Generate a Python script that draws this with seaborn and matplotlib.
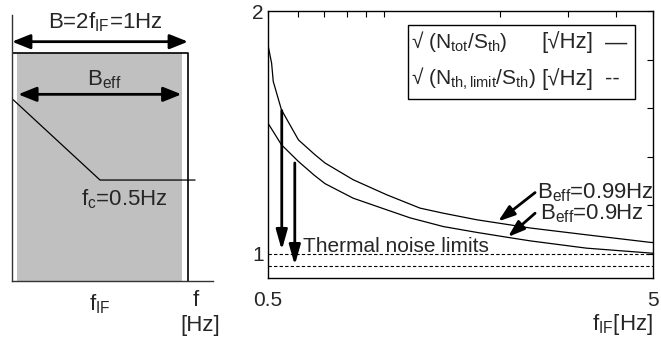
import matplotlib
matplotlib.use("Agg")
import matplotlib.pyplot as plt
import seaborn as sns
import pandas as pd
from matplotlib.ticker import NullLocator

sns.set_theme(style="white")
plt.rcParams["font.family"] = ["Liberation Sans", "DejaVu Sans"]
plt.rcParams["mathtext.fontset"] = "custom"
plt.rcParams["mathtext.rm"] = "Liberation Sans"
plt.rcParams["mathtext.it"] = "Liberation Sans:italic"

# --- left panel: filter schematic (f in Hz, level normalised) ---
band_B = [0.0, 1.0]
band_eff = [0.03, 0.968]
filter_f = [0.0, 0.5, 1.04]
filter_level = [0.80, 0.443, 0.443]

# --- right panel: sqrt(N/S_th) vs f_IF ---
f_099 = [0.5, 0.511, 0.516, 0.542, 0.60, 0.66, 0.703, 0.832, 1.017, 1.241,
         1.427, 1.742, 2.126, 2.40, 3.36, 4.91, 5.0]
n_099 = [1.86, 1.785, 1.71, 1.593, 1.469, 1.41, 1.374, 1.305, 1.243, 1.188,
         1.167, 1.140, 1.119, 1.106, 1.078, 1.047, 1.046]
f_09 = [0.5, 0.542, 0.60, 0.66, 0.703, 0.832, 1.017, 1.169, 1.427, 1.742,
        2.126, 2.40, 3.36, 4.91, 5.0]
n_09 = [1.538, 1.449, 1.380, 1.323, 1.289, 1.229, 1.181, 1.148, 1.112, 1.088,
        1.066, 1.053, 1.023, 1.003, 1.002]
limit_levels = [1.0, 0.95]
x_range = [0.5, 5.0]

fig = plt.figure(figsize=(6.61, 3.49), dpi=100)

# ---------------- left schematic ----------------
axl = fig.add_axes([0.01815, 0.1948, 0.3041, 0.7622])
axl.set_xlim(0, 1.142)
axl.set_ylim(0, 1.167)
for s in ["top", "right"]:
    axl.spines[s].set_visible(False)
for s in ["left", "bottom"]:
    axl.spines[s].set_color("#333333")
    axl.spines[s].set_linewidth(1.0)
axl.set_yticks([])
axl.set_xticks([0.5])
axl.set_xticklabels([""])
axl.tick_params(axis="x", direction="out", length=6, width=1, color="#333333")

axl.axvspan(band_eff[0], band_eff[1], ymin=0, ymax=1 / 1.167,
            color="#c0c0c0", lw=0)
rect = pd.DataFrame({"x": [band_B[0], band_B[0], band_B[1], band_B[1]],
                     "y": [0, 1, 1, 0]})
axl.plot(rect["x"], rect["y"], color="black", lw=1.2)
sns.lineplot(x=filter_f, y=filter_level, ax=axl, color="black", lw=0.9,
             estimator=None, sort=False)

arrow2 = dict(arrowstyle="<|-|>,head_length=0.55,head_width=0.22",
              color="black", lw=2, shrinkA=0, shrinkB=0, mutation_scale=20)
axl.annotate("", xy=(band_B[0], 1.05), xytext=(band_B[1], 1.05),
             arrowprops=arrow2)
axl.annotate("", xy=(band_eff[0] + 0.005, 0.819),
             xytext=(band_eff[1] - 0.005, 0.819), arrowprops=arrow2)

fs = 16
axl.text(0.53, 1.11, r"B=2f$_{\mathrm{IF}}$=1Hz", ha="center",
         va="baseline", fontsize=fs)
axl.text(0.526, 0.86, r"B$_{\mathrm{eff}}$", ha="center", va="baseline",
         fontsize=fs)
axl.text(0.636, 0.333, r"f$_{\mathrm{c}}$=0.5Hz", ha="center",
         va="baseline", fontsize=fs)
axl.text(0.5, -0.048, r"f$_{\mathrm{IF}}$", ha="center", va="top",
         fontsize=fs)
axl.text(1.045, -0.04, "f", ha="center", va="top", fontsize=fs)
axl.text(1.068, -0.149, "[Hz]", ha="center", va="top", fontsize=fs)

# ---------------- right plot ----------------
ax = fig.add_axes([0.4054, 0.2034, 0.5825, 0.765])
sns.lineplot(x=f_099, y=n_099, ax=ax, color="black", lw=0.9, estimator=None)
sns.lineplot(x=f_09, y=n_09, ax=ax, color="black", lw=0.9, estimator=None)
for lev in limit_levels:
    sns.lineplot(x=x_range, y=[lev, lev], ax=ax, color="black", lw=0.8,
                 linestyle=(0, (3, 2)), estimator=None)

ax.set_xscale("log")
ax.set_xlim(x_range)
ax.set_ylim(0.9, 2.0)
xt = [0.5, 0.6, 0.7, 0.8, 0.9, 1, 2, 3, 4, 5]
ax.set_xticks(xt)
ax.set_xticklabels(["0.5"] + [""] * 8 + ["5"])
ax.xaxis.set_minor_locator(NullLocator())
yt = [1.0, 1.2, 1.4, 1.6, 1.8, 2.0]
ax.set_yticks(yt)
ax.set_yticklabels(["1", "", "", "", "", "2"])
ax.tick_params(direction="in", length=4, width=0.8, top=True, right=True,
               labelsize=15, pad=3, color="black")
ax.tick_params(axis="x", pad=9)
for s in ax.spines.values():
    s.set_color("black")
    s.set_linewidth(1.0)

down = dict(arrowstyle="-|>,head_length=0.6,head_width=0.17",
            color="black", lw=2, shrinkA=0, shrinkB=0, mutation_scale=20)
ax.annotate("", xy=(0.543, 1.015), xytext=(0.543, 1.59), arrowprops=down)
ax.annotate("", xy=(0.587, 0.953), xytext=(0.587, 1.374), arrowprops=down)
ax.text(0.617, 1.009, "Thermal noise limits", ha="left", va="baseline",
        fontsize=15)

slant = dict(arrowstyle="-|>,head_length=0.5,head_width=0.17",
             color="black", lw=2, shrinkA=0, shrinkB=0, mutation_scale=20)
ax.annotate("", xy=(1.98, 1.133), xytext=(2.47, 1.252), arrowprops=slant)
ax.annotate("", xy=(2.10, 1.069), xytext=(2.47, 1.167), arrowprops=slant)
ax.text(2.50, 1.23, r"B$_{\mathrm{eff}}$=0.99Hz", ha="left",
        va="baseline", fontsize=fs)
ax.text(2.55, 1.14, r"B$_{\mathrm{eff}}$=0.9Hz", ha="left",
        va="baseline", fontsize=fs)

ax.text(1.0, -0.195, r"f$_{\mathrm{IF}}$[Hz]", transform=ax.transAxes,
        ha="right", va="baseline", fontsize=fs)

# legend box drawn by hand, sample lines as text like the original
ax.add_patch(plt.Rectangle((0.364, 0.670), 0.589, 0.278,
                           transform=ax.transAxes, fill=False,
                           edgecolor="black", lw=1.0))
leg_rows = [
    (0.860, r"√ (N$_{\mathrm{tot}}$/S$_{\mathrm{th}}$)", "—"),
    (0.723, r"√ (N$_{\mathrm{th,limit}}$/S$_{\mathrm{th}}$)", "--"),
]
for yy, lab, mark in leg_rows:
    ax.text(0.371, yy, lab, transform=ax.transAxes, ha="left",
            va="baseline", fontsize=15)
    ax.text(0.711, yy, "[√Hz]", transform=ax.transAxes, ha="left",
            va="baseline", fontsize=fs)
    ax.text(0.875, yy, mark, transform=ax.transAxes, ha="left",
            va="baseline", fontsize=fs)

fig.savefig("out.png", dpi=100)
